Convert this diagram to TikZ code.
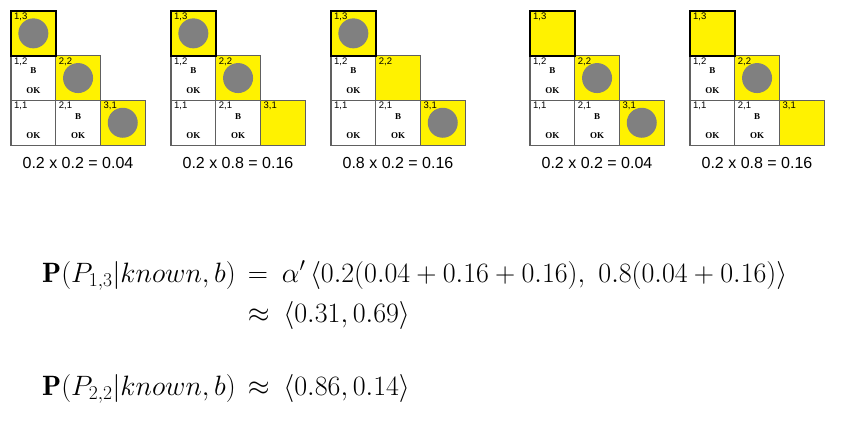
\RequirePackage{fix-cm}
\documentclass[tikz,border=0pt]{standalone}
\usepackage{fontspec}
\newfontfamily\arialf{Liberation Sans}
\newfontfamily\timesf{Liberation Serif}
\tikzset{
 cell/.style={draw=gray!75!black, line width=1.2pt, minimum size=44.7pt, inner sep=0pt, outer sep=0pt, anchor=north west},
 ycell/.style={cell, fill=yellow},
 wcell/.style={cell, fill=white},
 topcell/.style={cell, fill=yellow, draw=black, line width=2pt},
 pit/.style={circle, fill=gray, minimum size=30pt, inner sep=0pt},
 lbl/.style={font=\arialf\fontsize{9.5}{10}\selectfont, anchor=north west, inner sep=0pt, text=black},
 bok/.style={font=\timesf\bfseries\fontsize{9}{10}\selectfont, inner sep=0pt},
 captxt/.style={font=\arialf\fontsize{16}{18}\selectfont, inner sep=0pt},
 eqn/.style={anchor=base west, inner sep=0pt, font=\fontsize{28}{33}\selectfont},
}
% #1 x offset, #2 name prefix, #3 pit13, #4 pit22, #5 pit31, #6 caption
\newcommand\wgrid[6]{%
 \node[wcell] (#2c12) at (#1+11, 55.7) {};
 \node[wcell] (#2c11) at (#1+11, 100.4) {};
 \node[wcell] (#2c21) at (#1+55.7, 100.4) {};
 \node[ycell] (#2c22) at (#1+55.7, 55.7) {};
 \node[ycell] (#2c31) at (#1+100.4, 100.4) {};
 \node[topcell] (#2c13) at (#1+11, 11) {};
 \ifnum#3=1 \node[pit] (#2p13) at (#2c13.center) {};\fi
 \ifnum#4=1 \node[pit] (#2p22) at (#2c22.center) {};\fi
 \ifnum#5=1 \node[pit] (#2p31) at (#2c31.center) {};\fi
 \node[lbl] (#2l13) at (#1+14, 12.5) {1,3};
 \node[lbl] (#2l12) at (#1+14, 57.2) {1,2};
 \node[lbl] (#2l22) at (#1+58.7, 57.2) {2,2};
 \node[lbl] (#2l11) at (#1+14, 101.9) {1,1};
 \node[lbl] (#2l21) at (#1+58.7, 101.9) {2,1};
 \node[lbl] (#2l31) at (#1+103.4, 101.9) {3,1};
 \node[bok] (#2b12) at (#1+33.35, 71) {B};
 \node[bok] (#2o12) at (#1+33.35, 90.5) {OK};
 \node[bok] (#2b21) at (#1+78.05, 117) {B};
 \node[bok] (#2o21) at (#1+78.05, 135.5) {OK};
 \node[bok] (#2o11) at (#1+33.35, 135.5) {OK};
 \node[captxt] (#2cap) at (#1+78, 163) {#6};
}
\begin{document}
\begin{tikzpicture}[x=1pt, y=-1pt]
\useasboundingbox (0,0) rectangle (861,447);
\fill[white] (0,0) rectangle (861,447);
\wgrid{0}{ga}{1}{1}{1}{0.2 x 0.2 = 0.04}
\wgrid{160}{gb}{1}{1}{0}{0.2 x 0.8 = 0.16}
\wgrid{320}{gc}{1}{0}{1}{0.8 x 0.2 = 0.16}
\wgrid{519}{gd}{0}{1}{1}{0.2 x 0.2 = 0.04}
\wgrid{679}{ge}{0}{1}{0}{0.2 x 0.8 = 0.16}
\node[eqn] (eq1) at (42,282) {$\mathbf{P}(P_{1,3}|known,b)\hspace{0.15em}=\hspace{0.22em}\alpha'\,\langle 0.2(0.04+0.16+0.16),\ 0.8(0.04+0.16)\rangle$};
\node[eqn] (eq2) at (42,322) {$\phantom{\mathbf{P}(P_{1,3}|known,b)}\hspace{0.15em}\approx\hspace{0.22em}\langle 0.31,0.69\rangle$};
\node[eqn] (eq3) at (42,395) {$\mathbf{P}(P_{2,2}|known,b)\hspace{0.15em}\approx\hspace{0.22em}\langle 0.86,0.14\rangle$};
\end{tikzpicture}
\end{document}
